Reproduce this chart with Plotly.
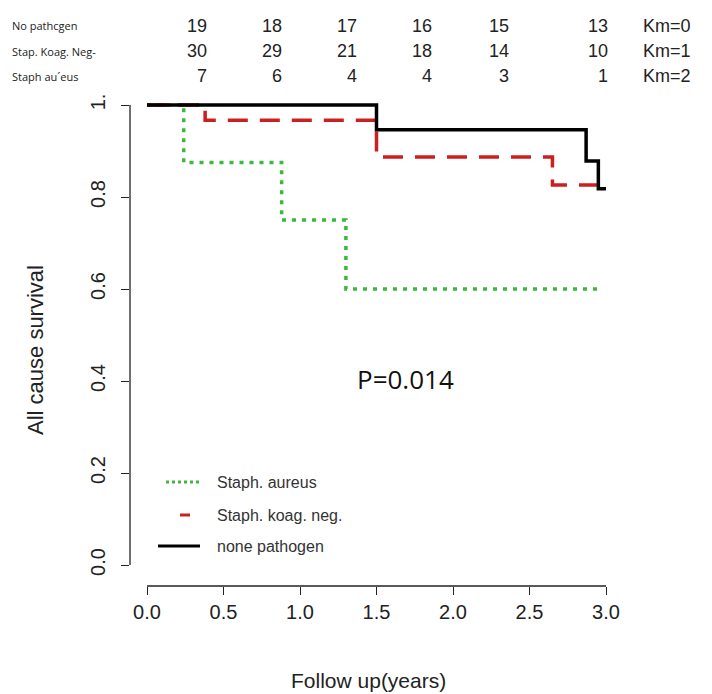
import plotly.graph_objects as go

# ---- data ----
time_none = [0, 1.50, 2.87, 2.95, 3.00]
surv_none = [1.0, 0.946, 0.878, 0.818, 0.818]
time_coag = [0, 0.38, 1.50, 2.65, 2.95]
surv_coag = [1.0, 0.967, 0.887, 0.826, 0.826]
time_aur = [0, 0.24, 0.88, 1.30, 2.95]
surv_aur = [1.0, 0.875, 0.75, 0.60, 0.60]

x_ticks = [0.0, 0.5, 1.0, 1.5, 2.0, 2.5, 3.0]
x_tick_labels = ["0.0", "0.5", "1.0", "1.5", "2.0", "2.5", "3.0"]
y_ticks = [0.0, 0.2, 0.4, 0.6, 0.8, 1.0]
y_tick_labels = ["0.0", "0.2", "0.4", "0.6", "0.8", "1."]

risk_groups = ["No pathcgen", "Stap. Koag. Neg-", "Staph au\u00b4eus"]
risk_none = [19, 18, 17, 16, 15, 13]
risk_coag = [30, 29, 21, 18, 14, 10]
risk_aur = [7, 6, 4, 4, 3, 1]
risk_tags = ["Km=0", "Km=1", "Km=2"]

legend_names = ["Staph. aureus", "Staph. koag. neg.", "none pathogen"]
p_text = "P=0.014"

# ---- layout geometry (pixels) ----
W, H = 712, 694
L, R, T, B = 122, 620, 70, 578

def px(xp):
    return (xp - L) / (R - L)

def py(yp):
    return (B - yp) / (B - T)

GREEN = "#3cb83c"
RED = "#cc1f1f"
BLACK = "#000000"

fig = go.Figure()
fig.add_trace(go.Scatter(x=time_aur, y=surv_aur, mode="lines",
                         line=dict(shape="hv", color=GREEN, width=3.5, dash="4px,6px"),
                         showlegend=False, hoverinfo="skip"))
fig.add_trace(go.Scatter(x=time_coag, y=surv_coag, mode="lines",
                         line=dict(shape="hv", color=RED, width=3.5, dash="20px,12px"),
                         showlegend=False, hoverinfo="skip"))
fig.add_trace(go.Scatter(x=time_none, y=surv_none, mode="lines",
                         line=dict(shape="hv", color=BLACK, width=3.5),
                         showlegend=False, hoverinfo="skip"))

shapes = []
# axis lines (R style, only between first and last tick)
shapes.append(dict(type="line", xref="paper", yref="y", x0=0, x1=0,
                   y0=y_ticks[0], y1=y_ticks[-1], line=dict(color="#222", width=1.3)))
shapes.append(dict(type="line", xref="x", yref="paper", x0=x_ticks[0], x1=x_ticks[-1],
                   y0=0, y1=0, line=dict(color="#222", width=1.3)))

annotations = []
font_main = "Liberation Sans, Arial, sans-serif"

# legend (drawn manually)
leg_rows = [474, 507, 538]
leg_styles = [(GREEN, "dot", 158, 192), (RED, "solid", 172, 182), (BLACK, "solid", 150, 192)]
for name, yrow, (col, dash, x0, x1) in zip(legend_names, leg_rows, leg_styles):
    shapes.append(dict(type="line", xref="paper", yref="paper",
                       x0=px(x0), x1=px(x1), y0=py(yrow), y1=py(yrow),
                       line=dict(color=col, width=3, dash=dash)))
    annotations.append(dict(text=name, xref="paper", yref="paper", x=px(207), y=py(yrow),
                            xanchor="left", yanchor="middle", showarrow=False,
                            font=dict(family=font_main, size=16, color="#333")))

# number at risk table
row_y = [18, 43, 68]
col_right = [201, 276, 351, 426, 503, 602]
for gname, vals, tag, yrow in zip(risk_groups, [risk_none, risk_coag, risk_aur], risk_tags, row_y):
    annotations.append(dict(text=gname, xref="paper", yref="paper", x=px(2), y=py(yrow),
                            xanchor="left", yanchor="middle", showarrow=False,
                            font=dict(family="Open Sans, sans-serif", size=11, color="#222")))
    for v, xr in zip(vals, col_right):
        annotations.append(dict(text=str(v), xref="paper", yref="paper", x=px(xr), y=py(yrow),
                                xanchor="right", yanchor="middle", showarrow=False,
                                font=dict(family=font_main, size=18, color="#222")))
    annotations.append(dict(text=tag, xref="paper", yref="paper", x=px(633), y=py(yrow),
                            xanchor="left", yanchor="middle", showarrow=False,
                            font=dict(family=font_main, size=18, color="#222")))

# p-value
annotations.append(dict(text=p_text, xref="paper", yref="paper", x=px(397), y=py(371),
                        xanchor="center", yanchor="middle", showarrow=False,
                        font=dict(family="Open Sans, sans-serif", size=26, color="#111")))

# axis titles
annotations.append(dict(text="All cause survival", xref="paper", yref="paper", x=px(28), y=py(342),
                        xanchor="center", yanchor="middle", showarrow=False, textangle=-90,
                        font=dict(family=font_main, size=22, color="#222")))
annotations.append(dict(text="Follow up(years)", xref="paper", yref="paper", x=px(360), y=py(672),
                        xanchor="center", yanchor="middle", showarrow=False,
                        font=dict(family=font_main, size=21, color="#222")))

x0_px, x3_px = 139, 598
sx = (x3_px - x0_px) / 3.0
y0_px, y1_px = 557, 97
sy = (y0_px - y1_px) / 1.0

fig.update_layout(
    width=W, height=H,
    margin=dict(l=L, r=W - R, t=T, b=H - B, pad=0),
    paper_bgcolor="white", plot_bgcolor="white",
    showlegend=False,
    shapes=shapes, annotations=annotations,
    xaxis=dict(range=[(L - x0_px) / sx, (R - x0_px) / sx], tickvals=x_ticks, ticktext=x_tick_labels,
               showgrid=False, zeroline=False, showline=False, ticks="outside", ticklen=8,
               tickcolor="#222", tickwidth=1.3,
               tickfont=dict(family=font_main, size=20, color="#222")),
    yaxis=dict(range=[(y0_px - B) / sy, (y0_px - T) / sy], tickvals=y_ticks, ticktext=y_tick_labels,
               showgrid=False, zeroline=False, showline=False, ticks="outside", ticklen=8,
               tickcolor="#222", tickwidth=1.3, tickangle=-90, ticklabelstandoff=8,
               tickfont=dict(family=font_main, size=20, color="#222")),
)

fig.write_html("out.html")
